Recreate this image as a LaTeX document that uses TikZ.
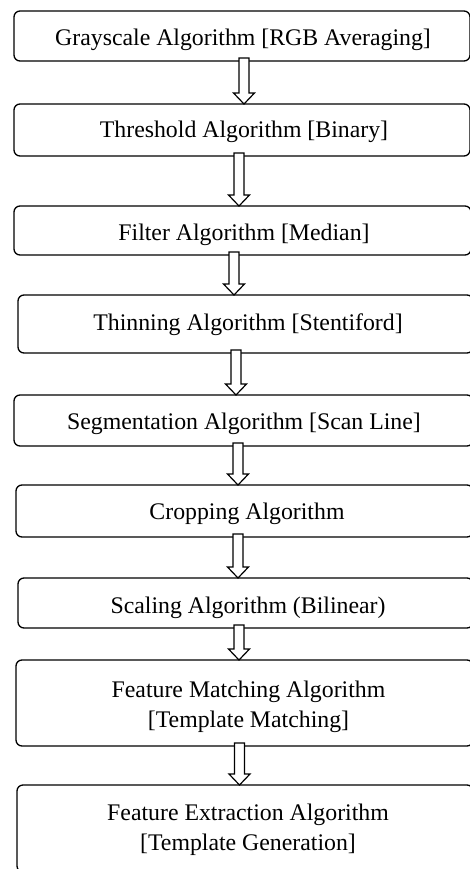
\documentclass[tikz,border=0pt]{standalone}
\usepackage{fontspec}
\setmainfont{Liberation Serif}
\usetikzlibrary{calc}
\tikzset{
  box/.style={draw=black, line width=1.3pt, rounded corners=6pt, fill=white, inner sep=0pt, outer sep=0pt},
  txt/.style={inner sep=0pt, anchor=base, align=center, font=\fontsize{23.8}{30}\selectfont},
  harr/.style={draw=black, line width=1.2pt, fill=white, line join=miter}
}
\newcommand\hollowarrow[3]{%
  \draw[harr] let \p1=(#1.south), \p2=(#2.north) in
    (#3pt-5pt,\y1+3pt) -- (#3pt+5pt,\y1+3pt) -- (#3pt+5pt,\y2+11pt)
    -- (#3pt+10.5pt,\y2+11pt) -- (#3pt,\y2) -- (#3pt-10.5pt,\y2+11pt)
    -- (#3pt-5pt,\y2+11pt) -- cycle;}
\begin{document}
\begin{tikzpicture}[x=1pt,y=-1pt]
\useasboundingbox (0,0) rectangle (470,869);
\clip (0,0) rectangle (470,869);
\fill[white] (0,0) rectangle (470,869);
% boxes
\node[box, minimum width=456pt, minimum height=50pt] (b1) at (242,36) {};
\node[box, minimum width=456pt, minimum height=52pt] (b2) at (242,130) {};
\node[box, minimum width=457pt, minimum height=49pt] (b3) at (242.5,230.5) {};
\node[box, minimum width=455pt, minimum height=58pt] (b4) at (245.5,324) {};
\node[box, minimum width=459pt, minimum height=51pt] (b5) at (243.5,420.5) {};
\node[box, minimum width=457pt, minimum height=52pt] (b6) at (244.5,511) {};
\node[box, minimum width=455pt, minimum height=50pt] (b7) at (245.5,603) {};
\node[box, minimum width=457pt, minimum height=86pt] (b8) at (244.5,703) {};
\node[box, minimum width=456pt, minimum height=87pt] (b9) at (245,828.5) {};
% texts
\node[txt] (t1) at (243,46) {Grayscale Algorithm [RGB Averaging]};
\node[txt] (t2) at (244,138) {Threshold Algorithm [Binary]};
\node[txt] (t3) at (244,240) {Filter Algorithm [Median]};
\node[txt] (t4) at (248,330) {Thinning Algorithm [Stentiford]};
\node[txt] (t5) at (244,429) {Segmentation Algorithm [Scan Line]};
\node[txt] (t6) at (247,519) {Cropping Algorithm};
\node[txt] (t7) at (248,613) {Scaling Algorithm (Bilinear)};
\node[txt] (t8) at (248.5,727) {Feature Matching Algorithm\\{}[Template Matching]};
\node[txt] (t9) at (248,850) {Feature Extraction Algorithm\\{}[Template Generation]};
% arrows
\hollowarrow{b1}{b2}{244}
\hollowarrow{b2}{b3}{239}
\hollowarrow{b3}{b4}{234}
\hollowarrow{b4}{b5}{236}
\hollowarrow{b5}{b6}{238}
\hollowarrow{b6}{b7}{238}
\hollowarrow{b7}{b8}{239}
\hollowarrow{b8}{b9}{239.5}
\end{tikzpicture}
\end{document}
